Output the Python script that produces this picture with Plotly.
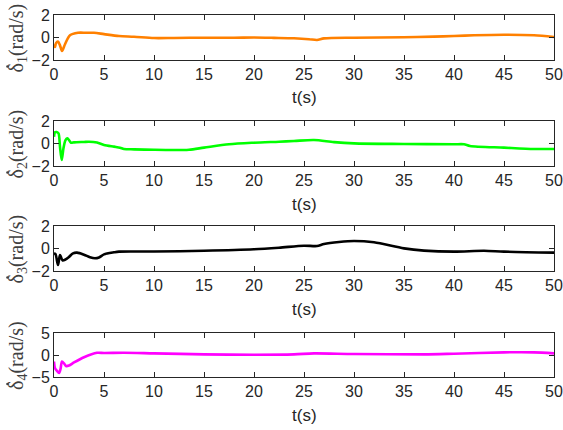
import plotly.graph_objects as go

# Angular-rate responses of the four joints over 50 s
t1 = [0, 0.1, 0.2, 0.4, 0.6, 0.8, 1.1, 1.6, 2.4, 3.2, 4.0, 5.0, 6.5, 8.0, 10.0, 12.0, 15.0, 18.0, 20.0, 22.0, 24.0, 25.5, 26.3, 27.0, 30.0, 35.0, 38.0, 40.0, 42.0, 45.0, 48.0, 50.0]
d1 = [-0.6, -0.85, -0.5, -0.36, -0.7, -1.2, -0.6, 0.2, 0.42, 0.42, 0.42, 0.3, 0.13, 0.07, -0.05, -0.04, -0.02, -0.02, 0.0, -0.03, -0.07, -0.15, -0.22, -0.08, -0.02, 0.02, 0.08, 0.13, 0.2, 0.25, 0.2, 0.05]

t2 = [0, 0.1, 0.25, 0.45, 0.6, 0.77, 0.95, 1.15, 1.35, 1.7, 2.0, 3.0, 3.5, 4.3, 5.0, 6.0, 6.6, 7.0, 8.0, 10.0, 12.0, 13.5, 15.0, 17.5, 20.0, 22.5, 24.0, 26.0, 28.0, 30.0, 35.0, 40.0, 41.0, 41.6, 45.0, 48.0, 50.0]
d2 = [0.6, 1.0, 1.02, 0.9, -0.3, -1.47, -0.4, 0.3, 0.46, 0.07, 0.1, 0.14, 0.16, 0.08, -0.13, -0.28, -0.37, -0.49, -0.52, -0.56, -0.58, -0.55, -0.37, -0.07, 0.07, 0.16, 0.22, 0.31, 0.12, 0.01, -0.04, -0.07, -0.07, -0.22, -0.37, -0.49, -0.49]

t3 = [0, 0.15, 0.4, 0.6, 0.85, 1.1, 1.5, 1.9, 2.3, 3.0, 3.6, 4.1, 4.5, 5.0, 6.0, 6.5, 10.0, 15.0, 20.0, 22.5, 25.0, 26.3, 27.0, 28.5, 30.0, 32.0, 35.0, 37.0, 40.0, 43.0, 45.0, 50.0]
d3 = [-0.45, -0.5, -1.47, -0.58, -1.05, -1.0, -0.75, -0.43, -0.37, -0.55, -0.78, -0.87, -0.8, -0.52, -0.34, -0.28, -0.27, -0.2, -0.07, 0.07, 0.25, 0.22, 0.4, 0.58, 0.67, 0.55, 0.01, -0.19, -0.28, -0.2, -0.28, -0.37]

t4 = [0, 0.1, 0.3, 0.5, 0.65, 0.8, 1.0, 1.2, 1.5, 2.0, 3.0, 4.3, 5.0, 7.0, 10.0, 15.0, 20.0, 24.0, 26.0, 30.0, 37.0, 40.0, 45.0, 48.0, 50.0]
d4 = [-1.5, -3.0, -3.6, -4.1, -3.2, -1.5, -1.9, -2.5, -2.4, -1.7, -0.5, 0.5, 0.45, 0.5, 0.37, 0.15, 0.07, 0.15, 0.37, 0.22, 0.15, 0.3, 0.6, 0.6, 0.37]

series = [
    (t1, d1, "#FF8000", "δ<sub>1</sub>(rad/s)", [-2, 2], [-2, 0, 2]),
    (t2, d2, "#00FF00", "δ<sub>2</sub>(rad/s)", [-2, 2], [-2, 0, 2]),
    (t3, d3, "#000000", "δ<sub>3</sub>(rad/s)", [-2, 2], [-2, 0, 2]),
    (t4, d4, "#FF00FF", "δ<sub>4</sub>(rad/s)", [-5, 5], [-5, 0, 5]),
]

W, H = 563, 430
L, R = 54, 554
panels = [(15, 60), (121, 166), (226, 271), (333, 377)]
x_ticks = [0, 5, 10, 15, 20, 25, 30, 35, 40, 45, 50]
axis_col = "#262626"
label_col = "#404040"
tick_font = dict(family="Liberation Sans, Arial", size=16, color=axis_col)
label_font = dict(family="Liberation Serif, Times New Roman", size=20, color=label_col)

fig = go.Figure()
layout = dict(
    width=W, height=H,
    margin=dict(l=0, r=0, t=0, b=0, pad=0, autoexpand=False),
    paper_bgcolor="white", plot_bgcolor="white",
    showlegend=False,
)
annotations = []
shapes = []
for i, (t, d, col, lab, yr, yt) in enumerate(series):
    n = "" if i == 0 else str(i + 1)
    top, bot = panels[i]
    mid = (top + bot) / 2
    fig.add_trace(go.Scatter(
        x=t, y=d, mode="lines",
        line=dict(color=col, width=2.6, shape="spline", smoothing=0.8),
        xaxis="x" + n, yaxis="y" + n,
    ))
    layout["xaxis" + n] = dict(
        domain=[L / W, R / W], range=[0, 50], tickvals=x_ticks,
        ticks="inside", ticklen=5, tickcolor=axis_col, tickwidth=1,
        showline=True, linecolor=axis_col, linewidth=1, mirror="ticks",
        showgrid=False, zeroline=False, tickfont=tick_font,
        automargin=False, anchor="y" + n,
    )
    layout["yaxis" + n] = dict(
        domain=[1 - bot / H, 1 - top / H], range=yr, tickvals=yt,
        ticks="inside", ticklen=5, tickcolor=axis_col, tickwidth=1,
        showline=True, linecolor=axis_col, linewidth=1, mirror="ticks",
        showgrid=False, zeroline=False, tickfont=tick_font,
        automargin=False, anchor="x" + n,
    )
    annotations.append(dict(
        text="t(s)", xref="paper", yref="paper",
        x=(L + R) / 2 / W, y=1 - (bot + 38) / H,
        xanchor="center", yanchor="middle", showarrow=False,
        font=dict(family="Liberation Sans, Arial", size=17, color=axis_col),
    ))
    annotations.append(dict(
        text=lab, xref="paper", yref="paper",
        x=17 / W, y=1 - (mid + 1) / H, textangle=-90,
        xanchor="center", yanchor="middle", showarrow=False,
        font=label_font,
    ))
    # time-derivative dot over the delta (rotated label, so it sits to the left)
    cx, cy, r = 7.5, mid + 29, 1.3
    shapes.append(dict(
        type="circle", xref="paper", yref="paper",
        x0=(cx - r) / W, x1=(cx + r) / W,
        y0=1 - (cy + r) / H, y1=1 - (cy - r) / H,
        fillcolor=label_col, line=dict(width=0),
    ))
layout["annotations"] = annotations
layout["shapes"] = shapes
fig.update_layout(**layout)
fig.write_html("out.html")
